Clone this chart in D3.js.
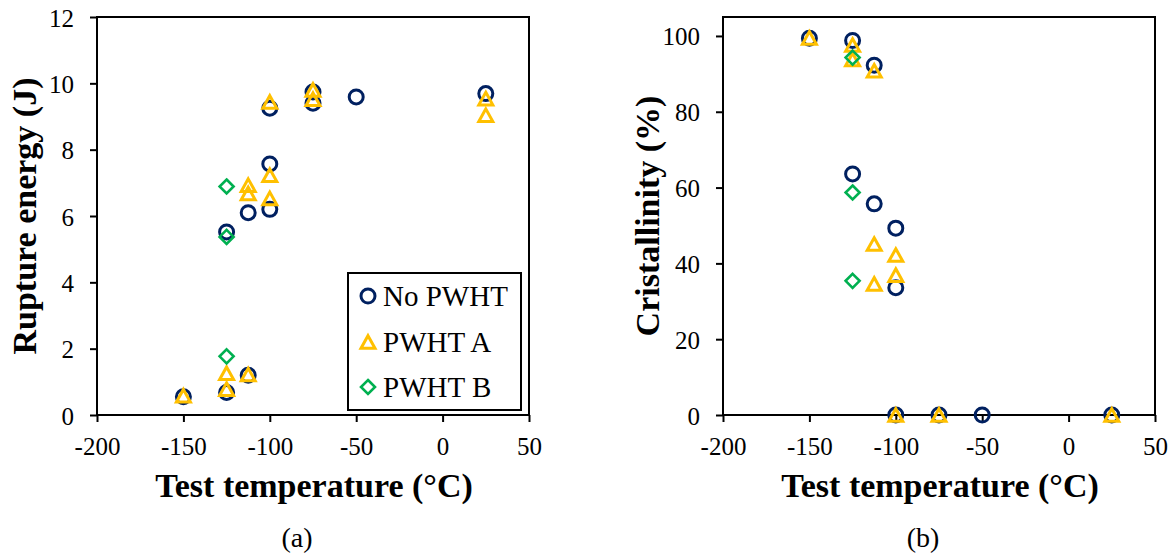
<!DOCTYPE html>
<html>
<head>
<meta charset="utf-8">
<script src="https://cdn.jsdelivr.net/npm/d3@7"></script>
<style>
  html, body { margin: 0; padding: 0; background: #fff; }
  svg { display: block; font-family: "Liberation Serif", "Times New Roman", serif; }
</style>
</head>
<body>
<svg id="chart" width="1171" height="553"></svg>
<script>
// ---------- Data ----------
const seriesNames = ["No PWHT", "PWHT A", "PWHT B"];
const seriesColors = ["#002060", "#FFC000", "#00B050"];

// (a) Rupture energy (J) vs test temperature (°C)
const energyNoPwhtT = [-150, -125, -125, -112.5, -112.5, -100, -100, -100, -75, -75, -50, 25];
const energyNoPwhtE = [0.55, 0.68, 5.52, 1.2, 6.1, 6.2, 7.57, 9.25, 9.4, 9.74, 9.59, 9.69];
const energyPwhtAT = [-150, -125, -125, -112.5, -112.5, -112.5, -100, -100, -100, -75, -75, 25, 25];
const energyPwhtAE = [0.58, 0.78, 1.26, 1.22, 6.93, 6.68, 7.23, 6.53, 9.44, 9.8, 9.52, 9.54, 9.04];
const energyPwhtBT = [-125, -125, -125];
const energyPwhtBE = [6.89, 5.37, 1.77];

// (b) Cristallinity (%) vs test temperature (°C)
const crystNoPwhtT = [-150, -125, -112.5, -125, -112.5, -100, -100, -100, -75, -50, 25];
const crystNoPwhtC = [99.4, 98.8, 92.3, 63.6, 55.7, 49.3, 33.6, 0, 0, 0, 0];
const crystPwhtAT = [-150, -125, -125, -112.5, -112.5, -100, -100, -112.5, -100, -75, 25];
const crystPwhtAC = [99.5, 97.6, 93.8, 90.8, 45.1, 42.2, 36.9, 34.6, 0, 0, 0];
const crystPwhtBT = [-125, -125, -125];
const crystPwhtBC = [94.3, 58.7, 35.4];

const xTicks = [-200, -150, -100, -50, 0, 50];
const energyTicks = [0, 2, 4, 6, 8, 10, 12];
const crystTicks = [0, 20, 40, 60, 80, 100];

// ---------- Helpers ----------
const svg = d3.select("#chart");
const zip = (xs, ys) => xs.map((x, i) => ({ x, y: ys[i] }));

function markerPath(kind) {
  if (kind === 1) { // triangle, bbox-centred
    const w = 7, h = 6.3;
    return `M0,${-h}L${w},${h}L${-w},${h}Z`;
  }
  const d = 7; // diamond
  return `M0,${-d}L${d},0L0,${d}L${-d},0Z`;
}

function drawMarker(g, kind, x, y) {
  const c = seriesColors[kind];
  if (kind === 0) {
    g.append("circle").attr("cx", x).attr("cy", y).attr("r", 7)
      .attr("fill", "none").attr("stroke", c).attr("stroke-width", 3);
  } else {
    g.append("path").attr("d", markerPath(kind))
      .attr("transform", `translate(${x},${y})`)
      .attr("fill", "none").attr("stroke", c)
      .attr("stroke-width", kind === 1 ? 3 : 2.6)
      .attr("stroke-linejoin", "miter");
  }
}

function panel(opts) {
  const { left, right, top, bottom, yDomain, yTicks, series, yTitle, yTitleX, letter } = opts;
  const x = d3.scaleLinear().domain([-200, 50]).range([left, right]);
  const y = d3.scaleLinear().domain(yDomain).range([bottom, top]);
  const g = svg.append("g");

  // y axis
  const ya = g.append("g").attr("transform", `translate(${left},0)`)
    .call(d3.axisLeft(y).tickValues(yTicks).tickSize(7).tickSizeOuter(0).tickPadding(16).tickFormat(d3.format("d")));
  ya.select(".domain").remove();
  ya.selectAll(".tick line").attr("stroke", "#000").attr("stroke-width", 2);
  ya.selectAll(".tick text").attr("font-size", 25).attr("fill", "#000")
    .attr("font-family", "Liberation Serif").attr("dy", "0.36em");

  // x axis
  const xa = g.append("g").attr("transform", `translate(0,${bottom})`)
    .call(d3.axisBottom(x).tickValues(xTicks).tickSize(7).tickSizeOuter(0).tickPadding(15).tickFormat(d3.format("d")));
  xa.select(".domain").remove();
  xa.selectAll(".tick line").attr("stroke", "#000").attr("stroke-width", 2);
  xa.selectAll(".tick text").attr("font-size", 25).attr("fill", "#000")
    .attr("font-family", "Liberation Serif").text(d => d < 0 ? "-" + Math.abs(d) : d);

  // frame
  g.append("rect").attr("x", left).attr("y", top)
    .attr("width", right - left).attr("height", bottom - top)
    .attr("fill", "none").attr("stroke", "#000").attr("stroke-width", 2);

  // data
  const dg = g.append("g");
  series.forEach((pts, k) => pts.forEach(p => drawMarker(dg, k, x(p.x), y(p.y))));

  // titles
  g.append("text").attr("x", (left + right) / 2 + 1).attr("y", 497)
    .attr("text-anchor", "middle").attr("font-weight", "bold").attr("font-size", 34)
    .text("Test temperature (°C)");
  g.append("text").attr("transform", `translate(${yTitleX},${(top + bottom) / 2}) rotate(-90)`)
    .attr("text-anchor", "middle").attr("font-weight", "bold").attr("font-size", 34)
    .text(yTitle);
  g.append("text").attr("x", (left + right) / 2 - 16).attr("y", 547)
    .attr("text-anchor", "middle").attr("font-size", 28).text(letter);
  return g;
}

panel({
  left: 97, right: 529, top: 17, bottom: 415,
  yDomain: [0, 12], yTicks: energyTicks,
  series: [zip(energyNoPwhtT, energyNoPwhtE), zip(energyPwhtAT, energyPwhtAE), zip(energyPwhtBT, energyPwhtBE)],
  yTitle: "Rupture energy (J)", yTitleX: 36, letter: "(a)"
});

panel({
  left: 723, right: 1155, top: 17, bottom: 415,
  yDomain: [0, 105], yTicks: crystTicks,
  series: [zip(crystNoPwhtT, crystNoPwhtC), zip(crystPwhtAT, crystPwhtAC), zip(crystPwhtBT, crystPwhtBC)],
  yTitle: "Cristallinity (%)", yTitleX: 659, letter: "(b)"
});

// legend (panel a)
const lg = svg.append("g");
lg.append("rect").attr("x", 348).attr("y", 273).attr("width", 173).attr("height", 137)
  .attr("fill", "#fff").attr("stroke", "#000").attr("stroke-width", 2);
const legendRowsY = [296, 342, 387];
seriesNames.forEach((name, k) => {
  drawMarker(lg, k, 368, legendRowsY[k]);
  lg.append("text").attr("x", 383).attr("y", legendRowsY[k] + 10)
    .attr("font-size", 29).text(name);
});
</script>
</body>
</html>
